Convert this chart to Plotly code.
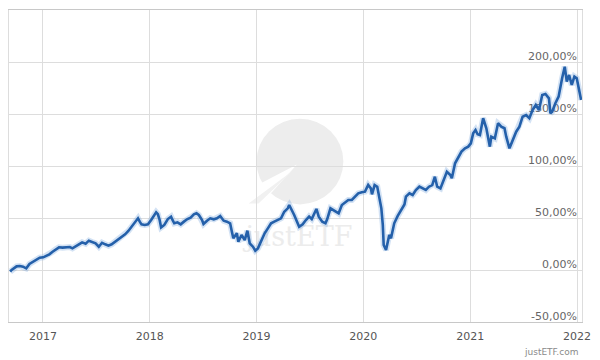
import plotly.graph_objects as go

# ---- data ----
dates = [
    "2016-09-11", "2016-09-16", "2016-10-03", "2016-10-14", "2016-10-25", "2016-11-05",
    "2016-11-16", "2016-11-28", "2016-12-09", "2016-12-21", "2017-01-02", "2017-01-12",
    "2017-01-23", "2017-02-03", "2017-02-14", "2017-02-25", "2017-03-09", "2017-03-20",
    "2017-04-03", "2017-04-12", "2017-04-23", "2017-05-04", "2017-05-15", "2017-05-27",
    "2017-06-07", "2017-06-18", "2017-06-30", "2017-07-11", "2017-07-22", "2017-08-02",
    "2017-08-13", "2017-08-24", "2017-09-05", "2017-09-16", "2017-09-27", "2017-10-09",
    "2017-10-20", "2017-10-31", "2017-11-11", "2017-11-17", "2017-11-22", "2017-11-28",
    "2017-12-04", "2017-12-15", "2017-12-26", "2018-01-06", "2018-01-18", "2018-01-23",
    "2018-01-29", "2018-02-04", "2018-02-09", "2018-02-20", "2018-03-04", "2018-03-15",
    "2018-03-20", "2018-03-26", "2018-04-06", "2018-04-17", "2018-04-28", "2018-05-10",
    "2018-05-21", "2018-06-01", "2018-06-10", "2018-06-18", "2018-06-29", "2018-07-04",
    "2018-07-16", "2018-07-27", "2018-08-08", "2018-08-19", "2018-08-30", "2018-09-11",
    "2018-09-22", "2018-10-03", "2018-10-09", "2018-10-14", "2018-10-26", "2018-10-31",
    "2018-11-11", "2018-11-22", "2018-12-01", "2018-12-09", "2018-12-20", "2018-12-28",
    "2019-01-06", "2019-01-18", "2019-01-29", "2019-02-09", "2019-02-20", "2019-03-03",
    "2019-03-15", "2019-03-26", "2019-04-06", "2019-04-18", "2019-04-23", "2019-04-29",
    "2019-05-10", "2019-05-27", "2019-06-08", "2019-06-19", "2019-06-30", "2019-07-09",
    "2019-07-17", "2019-07-25", "2019-08-02", "2019-08-14", "2019-08-25", "2019-08-31",
    "2019-09-11", "2019-09-22", "2019-10-09", "2019-10-20", "2019-10-31", "2019-11-11",
    "2019-11-23", "2019-12-04", "2019-12-15", "2019-12-27", "2020-01-07", "2020-01-18",
    "2020-01-27", "2020-01-31", "2020-02-09", "2020-02-18", "2020-02-26", "2020-03-03",
    "2020-03-08", "2020-03-11", "2020-03-19", "2020-03-30", "2020-04-05", "2020-04-16",
    "2020-04-28", "2020-05-09", "2020-05-21", "2020-05-26", "2020-06-07", "2020-06-18",
    "2020-06-29", "2020-07-11", "2020-07-22", "2020-08-02", "2020-08-13", "2020-08-24",
    "2020-09-02", "2020-09-10", "2020-09-21", "2020-10-02", "2020-10-13", "2020-10-25",
    "2020-10-30", "2020-11-10", "2020-11-21", "2020-12-02", "2020-12-14", "2020-12-25",
    "2021-01-03", "2021-01-11", "2021-01-19", "2021-01-26", "2021-02-03", "2021-02-14",
    "2021-02-25", "2021-03-09", "2021-03-14", "2021-03-26", "2021-04-06", "2021-04-17",
    "2021-04-28", "2021-05-04", "2021-05-15", "2021-05-27", "2021-06-07", "2021-06-18",
    "2021-06-29", "2021-07-11", "2021-07-22", "2021-08-02", "2021-08-13", "2021-08-24",
    "2021-09-04", "2021-09-15", "2021-09-27", "2021-10-02", "2021-10-08", "2021-10-19",
    "2021-10-30", "2021-11-11", "2021-11-20", "2021-11-27", "2021-12-05", "2021-12-14",
    "2021-12-23", "2021-12-31", "2022-01-08", "2022-01-15",
]
performance = [
    -1.6, 0.0, 3.5, 3.8, 3.2, 1.6,
    5.8, 8.0, 10.3, 11.8, 12.2, 13.5,
    15.1, 17.6, 19.9, 21.8, 21.5, 21.8,
    22.1, 20.8, 23.1, 24.7, 26.6, 25.3,
    28.2, 26.9, 25.7, 22.4, 26.2, 24.7,
    23.4, 24.7, 27.2, 29.8, 32.0, 34.3,
    37.5, 41.6, 45.8, 49.0, 49.7, 46.5,
    43.9, 43.3, 43.9, 48.1, 52.9, 55.5,
    53.6, 48.1, 41.0, 43.3, 49.0, 51.3,
    48.1, 44.9, 45.8, 43.9, 46.5, 49.0,
    50.3, 53.6, 54.5, 52.9, 48.1, 44.2,
    47.4, 49.7, 48.7, 49.7, 51.9, 47.4,
    46.5, 44.9, 36.8, 30.5, 35.3, 27.2,
    33.7, 28.8, 37.8, 25.7, 22.4, 18.6,
    20.8, 28.8, 35.3, 40.0, 44.9, 46.5,
    48.1, 49.7, 56.0, 59.3, 62.5, 59.3,
    52.9, 41.6, 43.9, 48.1, 51.3, 49.0,
    53.6, 58.7, 51.3, 46.5, 44.9, 49.0,
    59.3, 57.7, 54.5, 62.5, 65.1, 67.3,
    67.3, 70.5, 73.7, 74.7, 75.3, 81.7,
    78.5, 72.8, 81.7, 80.1, 68.9, 59.3,
    43.3, 24.0, 19.2, 33.7, 30.5, 44.9,
    52.0, 58.0, 63.0, 70.5, 73.7, 72.1,
    76.9, 80.1, 78.5, 76.9, 80.1, 81.7,
    89.7, 80.1, 78.5, 86.5, 94.5, 91.3,
    88.2, 102.6, 108.9, 113.8, 117.0, 118.6,
    121.8, 131.4, 134.6, 130.5, 129.8, 145.9,
    136.3, 118.6, 128.2, 126.6, 141.1, 137.8,
    136.3, 128.2, 117.0, 125.0, 133.0, 137.8,
    147.4, 149.0, 145.9, 153.8, 158.7, 153.8,
    168.3, 169.2, 165.1, 150.7, 152.2, 160.3,
    166.7, 184.3, 195.5, 181.1, 187.5, 177.9,
    185.9, 184.3, 173.1, 163.5,
]
year_ticks = ["2017-01-01", "2018-01-01", "2019-01-01", "2020-01-01", "2021-01-01", "2022-01-01"]
year_labels = ["2017", "2018", "2019", "2020", "2021", "2022"]
y_ticks = [-50, 0, 50, 100, 150, 200]
y_labels = ["-50,00%", "0,00%", "50,00%", "100,00%", "150,00%", "200,00%"]

fig = go.Figure()
# soft halo under the line
fig.add_trace(go.Scatter(x=dates, y=performance, mode="lines",
                         line=dict(color="rgba(110,160,220,0.30)", width=6),
                         hoverinfo="skip", showlegend=False))
fig.add_trace(go.Scatter(x=dates, y=performance, mode="lines",
                         line=dict(color="#2460aa", width=2.6),
                         showlegend=False))

L, R, T, B = 9, 590, 9, 322
W, H = R - L, B - T
def px(x):
    return (x - L) / W
def py(y):
    return (B - y) / H

# watermark (justETF logo) below gridlines and data
shapes = [
    dict(type="circle", xref="paper", yref="paper", layer="below",
         x0=px(260), x1=px(348), y0=py(204), y1=py(118),
         fillcolor="#ededed", line=dict(width=0)),
    dict(type="path", xref="paper", yref="paper", layer="below",
         path=f"M {px(301)},{py(164)} L {px(258)},{py(186)} L {px(268)},{py(200)} Z",
         fillcolor="#ffffff", line=dict(width=0)),
    dict(type="path", xref="paper", yref="paper", layer="below",
         path=f"M {px(297)},{py(170)} L {px(252)},{py(203)} L {px(262)},{py(203)} Z",
         fillcolor="#f1f1f1", line=dict(width=0)),
    dict(type="rect", xref="paper", yref="paper", layer="below",
         x0=px(250), x1=px(356), y0=py(252), y1=py(216),
         fillcolor="rgba(0,0,0,0)", line=dict(width=0),
         label=dict(text="justETF", textposition="middle center",
                    font=dict(family="DejaVu Serif", size=27, color="#ececec"))),
]
# y tick labels: right-aligned inside the plot, just above each gridline, under the line
for val, lab in zip(y_ticks, y_labels):
    shapes.append(dict(type="rect", xref="paper", yref="y", layer="below",
                       x0=px(500), x1=px(588), y0=val, y1=val + 12,
                       fillcolor="rgba(0,0,0,0)", line=dict(width=0),
                       label=dict(text=lab, textposition="middle right", padding=0,
                                  font=dict(family="DejaVu Sans", size=11, color="#666666"))))

annotations = [
    dict(text="justETF.com", xref="paper", yref="paper", x=1, y=py(352),
         xanchor="right", yanchor="middle", xshift=-2, showarrow=False,
         font=dict(family="DejaVu Sans", size=9, color="#8a8a8a")),
]

fig.update_layout(
    width=600, height=360,
    margin=dict(l=L, r=600 - R, t=T, b=360 - B),
    paper_bgcolor="white", plot_bgcolor="white",
    font=dict(family="DejaVu Sans", size=11, color="#666666"),
    shapes=shapes,
    annotations=annotations,
    xaxis=dict(type="date", range=["2016-09-07", "2022-01-18"],
               tickvals=year_ticks, ticktext=year_labels,
               ticklabeloverflow="allow",
               showgrid=True, gridcolor="#dddddd", gridwidth=1,
               ticks="outside", ticklen=4, tickcolor="rgba(0,0,0,0)",
               tickfont=dict(size=11, color="#555555"),
               showline=True, linecolor="#c8c8c8", linewidth=1, mirror=True,
               zeroline=False, fixedrange=True),
    yaxis=dict(range=[-50, 250], tickvals=y_ticks, showticklabels=False,
               showgrid=True, gridcolor="#dddddd", gridwidth=1,
               showline=True, linecolor="#dddddd", linewidth=1, mirror=True,
               zeroline=False, fixedrange=True),
)

fig.write_html("out.html", config={"displayModeBar": False},
               post_script="document.body.style.margin='0';")
